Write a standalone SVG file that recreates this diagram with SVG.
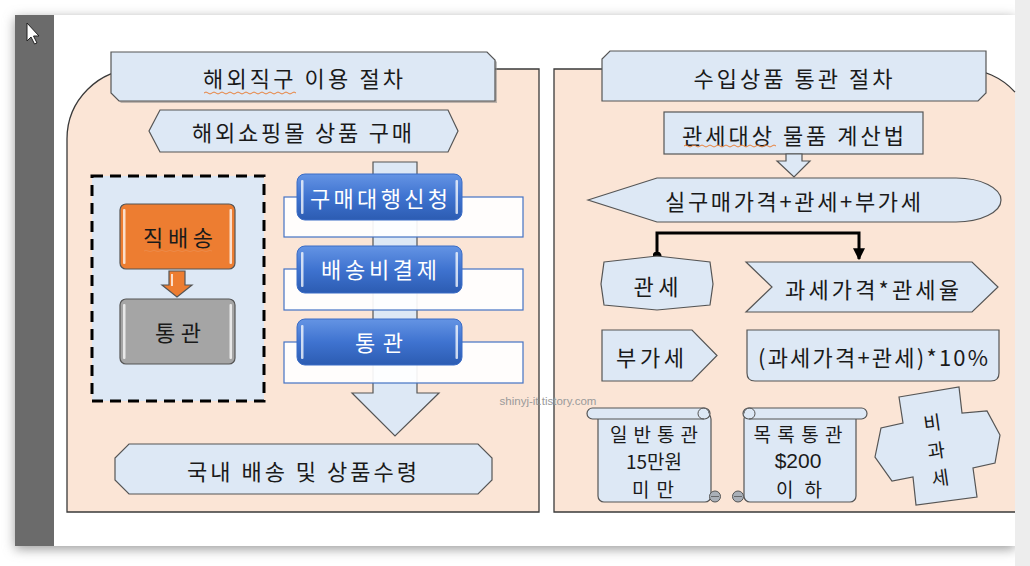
<svg xmlns="http://www.w3.org/2000/svg" width="1030" height="566" viewBox="0 0 1030 566">
<defs>
<style>
.t{font-family:'Noto Sans CJK KR','Noto Sans',sans-serif;font-size:22px;fill:#1a1a1a;text-anchor:middle;dominant-baseline:central}
.s{font-size:19px}
.w{fill:#ffffff}
.lb{fill:#dde8f5;stroke:#555;stroke-width:1.2}
.peach{fill:#fbe5d6}
.pline{fill:none;stroke:#3a3a3a;stroke-width:1.3}
.shadow{fill:#8a8a8a;opacity:0.55}
.gl{fill:#ffffff;opacity:0.75}
.curl{fill:#aab0b8;stroke:#555;stroke-width:1}
.sq{fill:none;stroke:#e8803a;stroke-width:1}
</style>
<linearGradient id="blueG" x1="0" y1="0" x2="0" y2="1">
<stop offset="0" stop-color="#6494e4"/>
<stop offset="0.5" stop-color="#3f73d0"/>
<stop offset="1" stop-color="#2c5cb2"/>
</linearGradient>
<filter id="pageSh" x="-5%" y="-5%" width="110%" height="115%">
<feGaussianBlur stdDeviation="6"/>
</filter>
<marker id="arr" viewBox="0 0 10 10" refX="9" refY="5" markerWidth="4" markerHeight="4" orient="auto" markerUnits="strokeWidth">
<path d="M0,0 L10,5 L0,10 Z" fill="#000"/>
</marker>
<marker id="dot" viewBox="0 0 10 10" refX="5" refY="5" markerWidth="3" markerHeight="3" markerUnits="strokeWidth">
<circle cx="5" cy="5" r="5" fill="#000"/>
</marker>
</defs>

<!-- background / page -->
<rect x="0" y="0" width="1030" height="566" fill="#ffffff"/>
<rect x="15" y="18" width="1000" height="531" fill="#9a9a9a" filter="url(#pageSh)"/>
<rect x="1015" y="0" width="15" height="566" fill="#ededed"/>
<rect x="15" y="15" width="1000" height="531" fill="#ffffff"/>
<rect x="15" y="15" width="39" height="531" fill="#6b6b6b"/>
<path d="M27,23 L27,41 L31,37 L34.5,44 L37,43 L33.5,36 L39,36 Z" fill="#ffffff" stroke="#222" stroke-width="1"/>

<!-- left panel -->
<g id="left-panel">
<path class="peach" d="M67,512 L67,139 A70,70 0 0 1 137,69 L539,69 L539,512 Z"/>
<path class="pline" d="M67,512 L67,139 A70,70 0 0 1 137,69 L539,69 L539,512 Z"/>
</g>

<!-- right panel -->
<g id="right-panel">
<path class="peach" d="M554,512 L554,69 L963,69 A70,70 0 0 1 1015,92.1 L1015,512 Z"/>
<path class="pline" d="M1015,512 L554,512 L554,69 L963,69 A70,70 0 0 1 1015,92.1"/>
</g>

<!-- watermark -->
<text x="548" y="401" font-family="'Liberation Sans',Arial,sans-serif" font-size="11.5" fill="#9a9a9a" text-anchor="middle" dominant-baseline="central">shinyj-it.tistory.com</text>

<g id="title-left">
<path class="shadow" d="M113,54 L489,54 L497,62 L497,103 L121,103 L113,95 Z"/>
<path class="lb" d="M111,52 L487,52 L495,60 L495,101 L119,101 L111,93 Z"/>
<text class="t" x="303" y="77" textLength="200" lengthAdjust="spacing">해외직구 이용 절차</text>
<path class="sq" d="M204,93 q2,-2 4,0 t4,0 t4,0 t4,0 t4,0 t4,0 t4,0 t4,0 t4,0 t4,0 t4,0 t4,0 t4,0 t4,0 t4,0 t4,0 t4,0 t4,0 t4,0 t4,0 t4,0 t4,0 t4,0"/>
</g>

<g id="shop-buy">
<path class="lb" d="M160,110 L448,110 L458,131 L448,152 L160,152 L149,131 Z"/>
<text class="t" x="302" y="131" textLength="220" lengthAdjust="spacing">해외쇼핑몰 상품 구매</text>
</g>

<g id="direct-box">
<rect x="92" y="176" width="172" height="225" fill="#dde8f5" stroke="#000" stroke-width="3" stroke-dasharray="11,7"/>
</g>

<g id="direct-ship">
<rect x="120" y="204" width="115" height="65" rx="6" fill="#ed7d31" stroke="#555" stroke-width="1.2"/>
<rect x="123" y="209" width="2.5" height="55" rx="1" class="gl"/>
<rect x="229.5" y="209" width="2.5" height="55" rx="1" class="gl"/>
<text class="t" x="178" y="236" textLength="70" lengthAdjust="spacing">직배송</text>
<path d="M144,251 q2,-1.5 4,0 t4,0 t4,0 t4,0 t4,0 t4,0 t4,0 t4,0 t4,0 t4,0 t4,0 t4,0 t4,0 t4,0 t4,0 t4,0 t4,0" fill="none" stroke="#e8a070" stroke-width="0.6" opacity="0.6"/>
</g>

<g id="orange-arrow">
<path d="M169,271 L185,271 L185,285 L192,285 L177,297 L162,285 L169,285 Z" fill="#ed7d31" stroke="#555" stroke-width="1.2"/>
<rect x="171" y="274" width="2" height="12" class="gl"/>
</g>

<g id="customs-gray">
<rect x="120" y="299" width="115" height="65" rx="6" fill="#a5a5a5" stroke="#555" stroke-width="1.2"/>
<rect x="123" y="304" width="2.5" height="55" rx="1" class="gl"/>
<rect x="229.5" y="304" width="2.5" height="55" rx="1" class="gl"/>
<text class="t" x="178" y="331" textLength="46" lengthAdjust="spacing">통관</text>
</g>

<g id="process-arrow">
<path class="lb" d="M373,162 L417,162 L417,393 L439,393 L395,436 L352,393 L373,393 Z"/>
</g>

<g id="step1">
<rect x="284" y="197" width="239" height="40" fill="#ffffff" fill-opacity="0.92" stroke="#4472c4" stroke-width="1.2"/>
<rect x="297" y="174" width="165" height="46" rx="8" fill="url(#blueG)" stroke="#3a6cc6" stroke-width="1"/>
<rect x="301" y="180" width="2.5" height="34" rx="1" class="gl"/>
<rect x="455.5" y="180" width="2.5" height="34" rx="1" class="gl"/>
<text class="t w" x="379" y="197" textLength="138" lengthAdjust="spacing">구매대행신청</text>
</g>

<g id="step2">
<rect x="284" y="269" width="239" height="41" fill="#ffffff" fill-opacity="0.92" stroke="#4472c4" stroke-width="1.2"/>
<rect x="297" y="246" width="165" height="47" rx="8" fill="url(#blueG)" stroke="#3a6cc6" stroke-width="1"/>
<rect x="301" y="252" width="2.5" height="35" rx="1" class="gl"/>
<rect x="455.5" y="252" width="2.5" height="35" rx="1" class="gl"/>
<text class="t w" x="379" y="268" textLength="116" lengthAdjust="spacing">배송비결제</text>
</g>

<g id="step3">
<rect x="284" y="342" width="239" height="41" fill="#ffffff" fill-opacity="0.92" stroke="#4472c4" stroke-width="1.2"/>
<rect x="297" y="319" width="165" height="46" rx="8" fill="url(#blueG)" stroke="#3a6cc6" stroke-width="1"/>
<rect x="301" y="325" width="2.5" height="34" rx="1" class="gl"/>
<rect x="455.5" y="325" width="2.5" height="34" rx="1" class="gl"/>
<text class="t w" x="379" y="341" textLength="48" lengthAdjust="spacing">통관</text>
</g>

<g id="domestic">
<path class="lb" d="M129,444 L478,444 L492,458 L492,480 L478,494 L129,494 L115,480 L115,458 Z"/>
<text class="t" x="302" y="470" textLength="230" lengthAdjust="spacing">국내 배송 및 상품수령</text>
</g>

<g id="title-right">
<path class="lb" d="M610,51 L986,51 L986,93 L978,101 L602,101 L602,59 Z"/>
<text class="t" x="793" y="77" textLength="199" lengthAdjust="spacing">수입상품 통관 절차</text>
</g>

<g id="calc">
<rect x="664" y="112" width="259" height="42" class="lb"/>
<text class="t" x="793" y="134" textLength="222" lengthAdjust="spacing">관세대상 물품 계산법</text>
<path class="sq" d="M684,146 q2,-2 4,0 t4,0 t4,0 t4,0 t4,0 t4,0 t4,0 t4,0 t4,0 t4,0 t4,0 t4,0 t4,0 t4,0 t4,0 t4,0 t4,0 t4,0 t4,0 t4,0 t4,0 t4,0 t4,0"/>
</g>

<g id="small-arrow">
<path class="lb" d="M786,154 L802,154 L802,161 L810,161 L794,177 L777,161 L786,161 Z"/>
</g>

<g id="total">
<path class="lb" d="M588,200 L657,178 L956,178 A45,22 0 0 1 956,222 L657,222 Z"/>
<text class="t" x="793" y="200" textLength="256" lengthAdjust="spacing">실구매가격+관세+부가세</text>
</g>

<g id="connectors">
<path d="M657,256 L657,233 L859,233 L859,259" fill="none" stroke="#000" stroke-width="3" marker-start="url(#dot)" marker-end="url(#arr)"/>
</g>

<g id="duty">
<path class="lb" d="M604,262 L657,256 L710,262 L713,284 L710,305 L657,310 L604,305 L601,284 Z"/>
<text class="t" x="656" y="285" textLength="45" lengthAdjust="spacing">관세</text>
</g>

<g id="duty-formula">
<path class="lb" d="M746,262 L972,262 L998,287 L972,312 L746,312 L772,287 Z"/>
<text class="t" x="872" y="288" textLength="174" lengthAdjust="spacing">과세가격*관세율</text>
</g>

<g id="vat">
<path class="lb" d="M602,330 L692,330 L717,355.5 L692,381 L602,381 Z"/>
<text class="t" x="650" y="356" textLength="68" lengthAdjust="spacing">부가세</text>
</g>

<g id="vat-formula">
<path class="lb" d="M747,330 L999,330 L999,373 Q999,381 991,381 L755,381 Q747,381 747,373 Z"/>
<text class="t" x="873" y="356" textLength="230" lengthAdjust="spacing">(과세가격+관세)*10%</text>
</g>

<g id="general-customs">
<rect x="598" y="413" width="113" height="89" rx="6" class="lb"/>
<rect x="587" y="408" width="123" height="11" rx="5.5" class="lb"/>
<path d="M704,419 A5.5,5.5 0 1 1 709,413.5" fill="none" stroke="#555" stroke-width="1"/>
<circle cx="715" cy="496.5" r="5.5" class="curl"/>
<path d="M711,496.5 L719,496.5" stroke="#555" stroke-width="0.8"/>
<text class="t s" x="654" y="433" textLength="88" lengthAdjust="spacing">일반통관</text>
<text class="t s" x="654" y="460.5">15만원</text>
<text class="t s" x="653" y="488" textLength="42" lengthAdjust="spacing">미만</text>
</g>

<g id="list-customs">
<rect x="744" y="413" width="112" height="89" rx="6" class="lb"/>
<rect x="743" y="408" width="124" height="11" rx="5.5" class="lb"/>
<path d="M749,419 A5.5,5.5 0 1 0 744,413.5" fill="none" stroke="#555" stroke-width="1"/>
<circle cx="738" cy="496.5" r="5.5" class="curl"/>
<path d="M734,496.5 L742,496.5" stroke="#555" stroke-width="0.8"/>
<text class="t s" x="798" y="433" textLength="89" lengthAdjust="spacing">목록통관</text>
<text class="t" x="798" y="460.5" style="font-family:'Liberation Sans',Arial,sans-serif;font-size:21px">$200</text>
<text class="t s" x="799" y="488" textLength="46" lengthAdjust="spacing">이하</text>
</g>

<g id="tax-free">
<path class="lb" d="M899,397 L959,387 L962,413 L987,411 L1000,435 L995,463 L973,468 L977,497 L916,505 L913,477 L892,481 L875,457 L881,428 L903,423 Z"/>
<g transform="rotate(-8 936 449)">
<text class="t s" x="936" y="421">비</text>
<text class="t s" x="936" y="449">과</text>
<text class="t s" x="936" y="477">세</text>
</g>
</g>
</svg>
